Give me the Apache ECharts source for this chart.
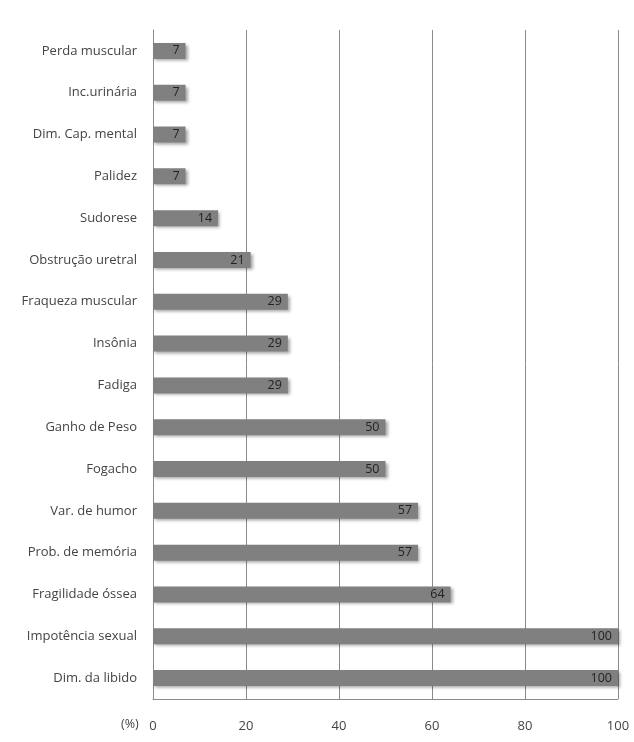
<!DOCTYPE html>
<html><head><meta charset="utf-8">
<script src="https://cdn.jsdelivr.net/npm/echarts@6/dist/echarts.min.js"></script>
<style>html,body{margin:0;padding:0;background:#fff}#c{width:634px;height:742px}</style>
</head><body><div id="c"></div>
<script>
const categories = ["Perda muscular","Inc.urinária","Dim. Cap. mental","Palidez","Sudorese","Obstrução uretral","Fraqueza muscular","Insônia","Fadiga","Ganho de Peso","Fogacho","Var. de humor","Prob. de memória","Fragilidade óssea","Impotência sexual","Dim. da libido"];
const values = [7,7,7,7,14,21,29,29,29,50,50,57,57,64,100,100];
const xTicks = [0,20,40,60,80,100];
const axisUnit = "(%)";

const chart = echarts.init(document.getElementById('c'), null, {renderer:'canvas'});
const font = "'Open Sans', sans-serif";
chart.setOption({
  animation:false,
  backgroundColor:'#fff',
  grid:{left:153,right:16,top:30,bottom:43,containLabel:false},
  xAxis:{type:'value',min:xTicks[0],max:xTicks[xTicks.length-1],interval:20,
    axisLine:{show:true,lineStyle:{color:'#8a8a8a'}},
    axisTick:{show:false},
    axisLabel:{margin:21,color:'#444',fontSize:13,fontFamily:font},
    splitLine:{show:true,lineStyle:{color:'#8a8a8a',width:1}}},
  yAxis:{type:'category',data:categories,inverse:true,
    axisLine:{show:true,lineStyle:{color:'#8a8a8a'}},
    axisTick:{show:false},
    axisLabel:{margin:16,color:'#444',fontSize:13,fontFamily:font}},
  graphic:[{type:'text',left:121,top:718,style:{text:axisUnit,fill:'#444',font:"12.5px 'Open Sans', sans-serif"}}],
  series:[{type:'bar',data:values,barWidth:16,
    itemStyle:{color:'#808080',shadowBlur:3,shadowColor:'rgba(0,0,0,0.35)',shadowOffsetX:2,shadowOffsetY:2},
    label:{show:true,position:'insideRight',distance:6,color:'#222',fontSize:12.5,fontFamily:font}}]
});
</script></body></html>
